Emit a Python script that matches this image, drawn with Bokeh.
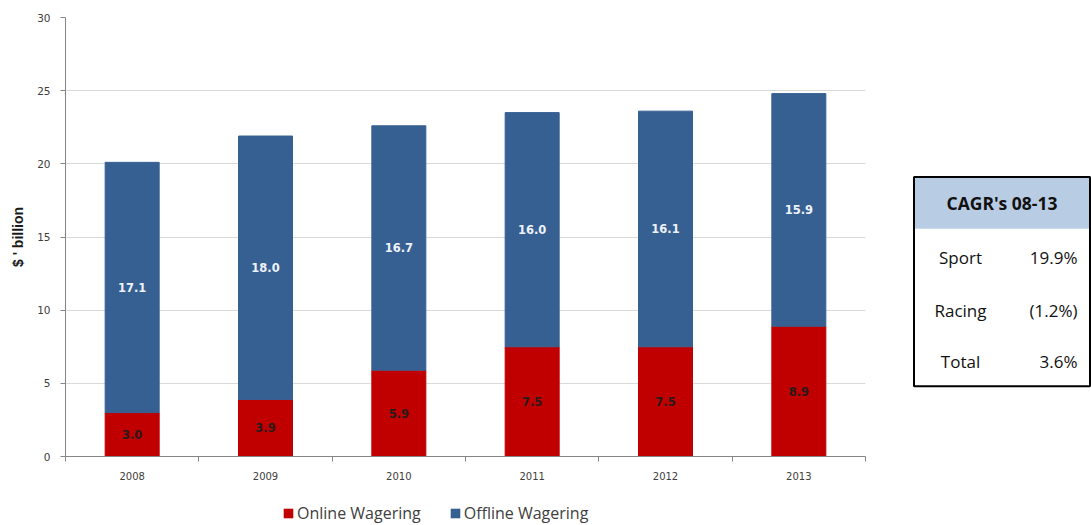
from bokeh.plotting import figure
from bokeh.models import (ColumnDataSource, FixedTicker, Legend, LegendItem, Range1d)
from bokeh.layouts import row, column
from bokeh.embed import file_html
from bokeh.resources import INLINE
from bokeh.core.properties import value

years = ["2008", "2009", "2010", "2011", "2012", "2013"]
online = [3.0, 3.9, 5.9, 7.5, 7.5, 8.9]
offline = [17.1, 18.0, 16.7, 16.0, 16.1, 15.9]
y_ticks = [0, 5, 10, 15, 20, 25, 30]
series_names = ["Online Wagering", "Offline Wagering"]

cagr_title = "CAGR's 08-13"
cagr_labels = ["Sport", "Racing", "Total"]
cagr_values = ["19.9%", "(1.2%)", "3.6%"]

RED = "#C00000"
BLUE = "#376092"
H = 482
LH = 43
PW = 888
TW = 203

xs = [i + 0.5 for i in range(len(years))]
tops = [a + b for a, b in zip(online, offline)]
src = ColumnDataSource(dict(
    x=xs, online=online, offline=offline, total=tops,
    on_mid=[v / 2 for v in online],
    off_mid=[a + b / 2 for a, b in zip(online, offline)],
    on_lab=["%.1f" % v for v in online],
    off_lab=["%.1f" % v for v in offline],
    zero=[0] * len(years),
))

p = figure(width=PW, height=H, output_backend="svg", toolbar_location=None,
           x_range=Range1d(0, len(years)), y_range=Range1d(0, 30),
           min_border_left=65, min_border_right=23, min_border_top=17,
           min_border_bottom=26)
p.outline_line_color = None

p.vbar(x="x", bottom="zero", top="online", width=0.405, color=RED, source=src)
p.vbar(x="x", bottom="online", top="total", width=0.405, color=BLUE, source=src)

p.text(x="x", y="on_mid", text="on_lab", source=src, text_align="center",
       text_baseline="middle", text_font=value("DejaVu Sans"), text_font_style="bold",
       text_font_size="11.5px", text_color="#2a1a1a")
p.text(x="x", y="off_mid", text="off_lab", source=src, text_align="center",
       text_baseline="middle", text_font=value("DejaVu Sans"), text_font_style="bold",
       text_font_size="11.5px", text_color="#EEF2FA")

# x axis
p.xaxis.ticker = FixedTicker(ticks=xs, minor_ticks=list(range(len(years) + 1)))
p.xaxis.major_label_overrides = {x: y for x, y in zip(xs, years)}
p.xaxis.major_tick_line_color = None
p.xaxis.minor_tick_in = 0
p.xaxis.minor_tick_out = 5
p.xaxis.minor_tick_line_color = "#868686"
p.xaxis.axis_line_color = "#868686"
p.xaxis.major_label_text_font = "DejaVu Sans"
p.xaxis.major_label_text_font_size = "10px"
p.xaxis.major_label_text_color = "#404040"
p.xaxis.major_label_standoff = 9
p.xgrid.grid_line_color = None

# y axis
p.yaxis.ticker = FixedTicker(ticks=y_ticks)
p.yaxis.minor_tick_line_color = None
p.yaxis.major_tick_in = 0
p.yaxis.major_tick_out = 5
p.yaxis.major_tick_line_color = "#868686"
p.yaxis.axis_line_color = "#868686"
p.yaxis.major_label_text_font = "DejaVu Sans"
p.yaxis.major_label_text_font_size = "10.5px"
p.yaxis.major_label_text_color = "#404040"
p.yaxis.major_label_standoff = 10
p.yaxis.axis_label = "$ ' billion"
p.yaxis.axis_label_text_font = "Liberation Sans"
p.yaxis.axis_label_text_font_style = "bold"
p.yaxis.axis_label_text_font_size = "14px"
p.yaxis.axis_label_text_color = "#1a1a1a"
p.yaxis.axis_label_standoff = 8
p.ygrid.grid_line_color = "#D9D9D9"
p.ygrid.ticker = FixedTicker(ticks=y_ticks)

# legend strip below (proxy renderers lie outside the visible range)
lf = figure(width=PW + TW, height=LH, output_backend="svg", toolbar_location=None,
            x_range=Range1d(0, 1), y_range=Range1d(0, 1), min_border=0)
lf.axis.visible = False
lf.grid.grid_line_color = None
lf.outline_line_color = None
lr_on = lf.vbar(x=[-5], top=[-5], bottom=[-6], width=0.1, fill_color=RED, line_color=None)
lr_off = lf.vbar(x=[-5], top=[-5], bottom=[-6], width=0.1, fill_color=BLUE, line_color=None)
legend = Legend(items=[LegendItem(label=series_names[0], renderers=[lr_on]),
                       LegendItem(label=series_names[1], renderers=[lr_off])],
                orientation="horizontal", location=(282, 1))
legend.border_line_color = None
legend.background_fill_alpha = 0
legend.label_text_font = "Open Sans"
legend.label_text_font_size = "16px"
legend.label_text_color = "#404040"
legend.glyph_width = 12
legend.glyph_height = 12
legend.label_standoff = 3
legend.spacing = 28
legend.padding = 0
legend.margin = 0
lf.add_layout(legend, "center")

# table figure
t = figure(width=TW, height=H, output_backend="svg", toolbar_location=None,
           x_range=Range1d(0, TW), y_range=Range1d(H, 0),
           min_border=0)
t.axis.visible = False
t.grid.grid_line_color = None
t.outline_line_color = None

bx0, bx1, by0, by1, hy = 25.5, 201.5, 175, 405, 232
t.quad(left=[bx0], right=[bx1], top=[by0], bottom=[hy], fill_color="#B8CCE4", line_color=None)
t.quad(left=[bx0], right=[bx1], top=[by0], bottom=[by1], fill_color=None,
       line_color="black", line_width=2)
t.text(x=[(bx0 + bx1) / 2], y=[204], text=[cagr_title], text_align="center",
       text_baseline="middle", text_font=value("Open Sans"), text_font_style="bold",
       text_font_size="17.5px", text_color="#111111")
row_y = [263, 322, 378]
tsrc = ColumnDataSource(dict(y=row_y, lab=cagr_labels, val=cagr_values,
                             xl=[72] * 3, xv=[189] * 3))
t.text(x="xl", y="y", text="lab", source=tsrc, text_align="center", text_baseline="middle",
       text_font=value("Open Sans"), text_font_size="17px", text_color="#111111")
t.text(x="xv", y="y", text="val", source=tsrc, text_align="right", text_baseline="middle",
       text_font=value("Open Sans"), text_font_size="17px", text_color="#111111")

layout = column(row(p, t, spacing=0), lf, spacing=0)
open("out.html", "w").write(file_html(layout, INLINE))
